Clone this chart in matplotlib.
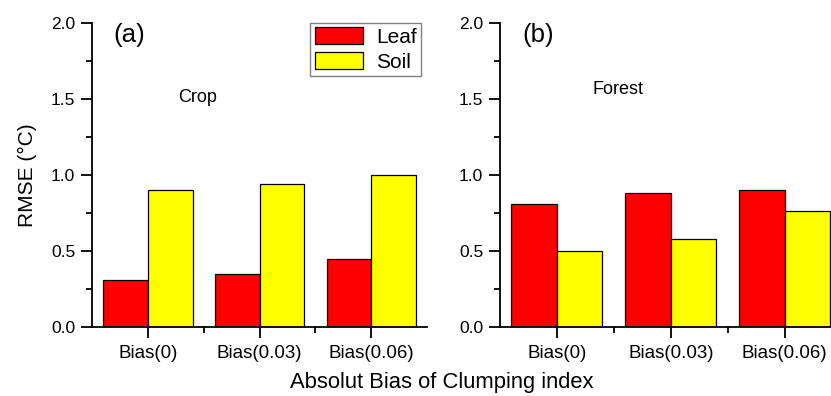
import matplotlib
matplotlib.use("Agg")
import matplotlib.pyplot as plt
import numpy as np
from matplotlib.ticker import MultipleLocator, FixedLocator

plt.rcParams['font.family'] = ['Liberation Sans', 'DejaVu Sans']

categories = ["Bias(0)", "Bias(0.03)", "Bias(0.06)"]
crop_leaf = [0.31, 0.35, 0.45]
crop_soil = [0.90, 0.94, 1.00]
forest_leaf = [0.81, 0.88, 0.90]
forest_soil = [0.50, 0.58, 0.76]

W, H = 831, 396
fig = plt.figure(figsize=(W / 100, H / 100), dpi=100)


def make_axes(left_px, width_px):
    return fig.add_axes([left_px / W, (H - 327) / H, width_px / W, 304 / H])


ax_a = make_axes(92, 335)
ax_b = make_axes(500, 341.5)

x = np.arange(len(categories))
bw = 0.4

for ax, leaf, soil, tag, site, site_xy in [
    (ax_a, crop_leaf, crop_soil, "(a)", "Crop", (0.27, 1.51)),
    (ax_b, forest_leaf, forest_soil, "(b)", "Forest", (0.31, 1.56)),
]:
    ax.bar(x - bw / 2, leaf, bw, color="#ff0000", edgecolor="black", linewidth=0.9, label="Leaf")
    ax.bar(x + bw / 2, soil, bw, color="#ffff00", edgecolor="black", linewidth=0.9, label="Soil")
    ax.set_xlim(-0.5, 2.5)
    ax.set_ylim(0, 2.0)
    ax.spines["top"].set_visible(False)
    ax.spines["right"].set_visible(False)
    for s in ("left", "bottom"):
        ax.spines[s].set_linewidth(1.3)
    ax.set_xticks(x)
    ax.set_xticklabels(categories)
    ax.xaxis.set_minor_locator(FixedLocator([0.5, 1.5]))
    ax.set_yticks([0, 0.5, 1.0, 1.5, 2.0])
    ax.set_yticklabels(["0.0", "0.5", "1.0", "1.5", "2.0"])
    ax.yaxis.set_minor_locator(MultipleLocator(0.25))
    ax.tick_params(axis="both", which="major", direction="out", length=8, width=1.3)
    ax.tick_params(axis="both", which="minor", direction="out", length=4, width=1.3)
    ax.tick_params(axis="x", which="major", labelsize=13.5, pad=5)
    ax.tick_params(axis="y", which="major", labelsize=12.5, pad=4)
    ax.text(0.065, 0.96, tag, transform=ax.transAxes, fontsize=18.6, ha="left", va="center")
    ax.text(site_xy[0], site_xy[1], site, fontsize=13, ha="left", va="center")

ax_a.set_ylabel("RMSE (\u00b0C)", fontsize=15, labelpad=10)
fig.text(0.532, 0.033, "Absolut Bias of Clumping index", fontsize=15.8, ha="center", va="center")

leg = ax_a.legend(loc="upper left", bbox_to_anchor=(0.652, 1.0), fontsize=15,
                  frameon=True, fancybox=False, edgecolor="#808080", framealpha=1,
                  handlelength=2.3, handleheight=0.88, handletextpad=0.67,
                  borderpad=0.2, labelspacing=0.25, borderaxespad=0)
leg.get_frame().set_linewidth(1.0)

fig.savefig("out.png", dpi=100)
